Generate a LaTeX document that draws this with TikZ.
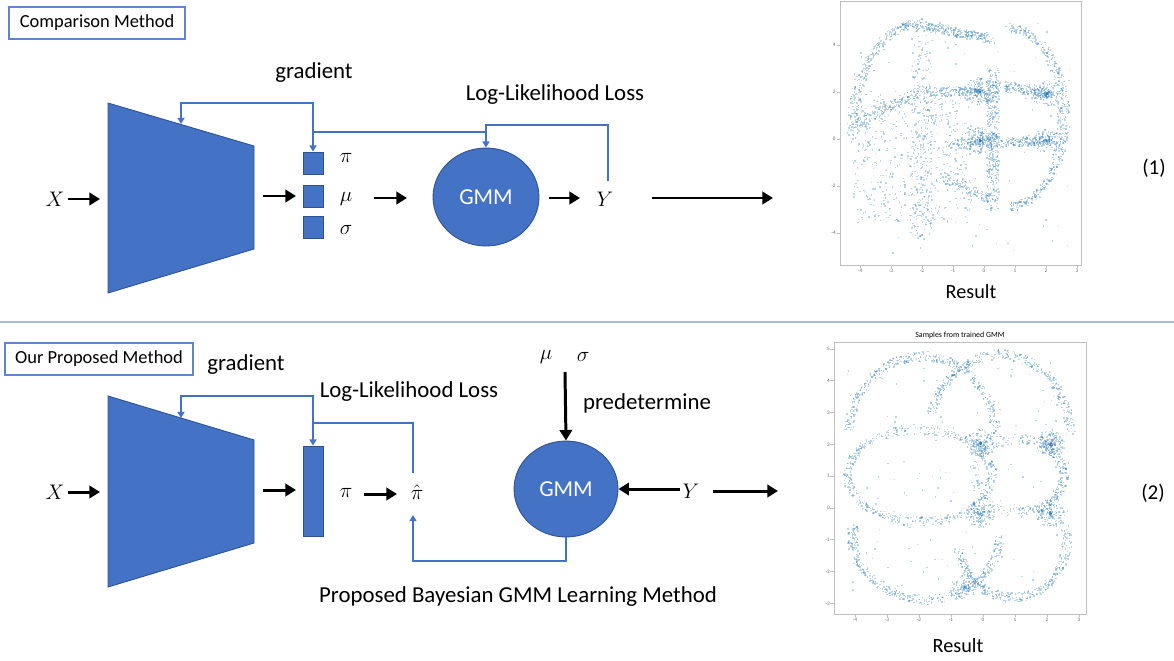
\documentclass[tikz,border=0pt]{standalone}
\usepackage{fontspec}
\setmainfont{Carlito}
\usetikzlibrary{arrows.meta,shapes.geometric}
\definecolor{netblue}{HTML}{4472C4}
\definecolor{netedge}{HTML}{2F528F}
\definecolor{tagblue}{HTML}{5B87D0}
\definecolor{sepblue}{HTML}{A9BCE0}
\definecolor{dotblue}{HTML}{1F77B4}
\def\jit{0.2}
\def\putdot{\fill (\px,\py) rectangle ++(0.8pt,0.8pt);}
% noisy samples along an elliptic arc: (cx,cy)(rx:ry:from:to){count}
\def\dotarc(#1,#2)(#3:#4:#5:#6)#7{%
	\foreach \k in {1,...,#7}{%
		\pgfmathsetmacro\ang{#5+rnd*((#6)-(#5))}%
		\pgfmathsetmacro\px{#1+(#3+\jit*rand)*cos(\ang)}%
		\pgfmathsetmacro\py{#2+(#4+\jit*rand)*sin(\ang)}%
		\putdot}}
% noisy samples along a segment
\def\dotline(#1,#2)(#3,#4)#5{%
	\foreach \k in {1,...,#5}{%
		\pgfmathsetmacro\tpar{rnd}%
		\pgfmathsetmacro\px{#1+\tpar*((#3)-(#1))+\jit*rand}%
		\pgfmathsetmacro\py{#2+\tpar*((#4)-(#2))+\jit*rand}%
		\putdot}}
% dense blob
\def\dotblob(#1,#2)(#3)#4{%
	\foreach \k in {1,...,#4}{%
		\pgfmathsetmacro\ang{360*rnd}%
		\pgfmathsetmacro\rr{#3*rnd}%
		\pgfmathsetmacro\px{#1+\rr*cos(\ang)}%
		\pgfmathsetmacro\py{#2+\rr*sin(\ang)}%
		\putdot}}
% uniform cloud in a box
\def\dotbox(#1,#2)(#3,#4)#5{%
	\foreach \k in {1,...,#5}{%
		\pgfmathsetmacro\px{#1+rnd*((#3)-(#1))}%
		\pgfmathsetmacro\py{#2+rnd*((#4)-(#2))}%
		\putdot}}

\begin{document}
\begin{tikzpicture}[x=0.02cm, y=-0.02cm,
	txt/.style={font=\fontsize{13}{15}\selectfont, inner sep=0pt},
	tag/.style={draw=tagblue, line width=0.6pt, font=\fontsize{10.5}{12}\selectfont, minimum height=0.64cm},
	net/.style={fill=netblue, draw=netedge, line width=0.5pt},
	cell/.style={net, minimum width=0.4cm, inner sep=0pt},
	gmm/.style={ellipse, net, text=white, inner sep=0pt, font=\fontsize{13}{15}\selectfont},
	arr/.style={line width=1.7pt, -{Triangle[length=6pt,width=7pt]}},
	loss/.style={draw=netblue, line width=1.1pt},
	lossarr/.style={loss, -{Triangle[length=3.5pt,width=4pt]}},
	cloud/.style={fill=dotblue, fill opacity=0.3},
	frame/.style={draw=black!25, line width=0.4pt},
	tick/.style={font=\fontsize{3}{3.5}\selectfont, text=black!60, inner sep=1pt}]
			%%%%% START %%%%%
			\fill[white] (0,0) rectangle (1174,660);
			\useasboundingbox (0,0) rectangle (1174,660);
			\pgfmathsetseed{7}
			
			%%%%% comparison method %%%%%
			\node[tag, minimum width=3.52cm] (tag1) at (97,23) {Comparison Method};
			
			\draw[net] (108,103) -- (254,146) -- (254,249) -- (108,293) -- cycle;
			\coordinate (gradtop1) at (181,103);
			\coordinate (encedge1) at (181,124);
			
			\node[txt] (xin1) at (55,199) {$X$};
			\coordinate (xa1) at (68,199);
			\coordinate (xb1) at (100,199);
			\draw[arr] (xa1) -- (xb1);
			
			\coordinate (ea1) at (263,196);
			\coordinate (eb1) at (296,196);
			\draw[arr] (ea1) -- (eb1);
			
			\node[cell, minimum height=0.44cm] (pi1) at (313,163) {};
			\node[cell, minimum height=0.44cm] (mu1) at (313,196) {};
			\node[cell, minimum height=0.44cm] (sg1) at (313,227) {};
			\node[txt] (pil1) at (346,158) {$\pi$};
			\node[txt] (mul1) at (346,199) {$\mu$};
			\node[txt] (sgl1) at (346,230) {$\sigma$};
			
			\coordinate (ma1) at (374,198);
			\coordinate (mb1) at (407,198);
			\draw[arr] (ma1) -- (mb1);
			
			\node[gmm, minimum width=2.12cm, minimum height=1.96cm] (gmm1) at (486,197) {GMM};
			\coordinate (ga1) at (549,198);
			\coordinate (gb1) at (580,198);
			\draw[arr] (ga1) -- (gb1);
			\node[txt] (y1) at (605,199) {$Y$};
			\coordinate (ya1) at (652,198);
			\coordinate (yb1) at (773,198);
			\draw[arr] (ya1) -- (yb1);
			
			\node[txt] (grad1) at (314,73) {gradient};
			\node[txt] (ll1) at (555,95) {Log-Likelihood Loss};
			
			\coordinate (ytop1) at (608,181);
			\coordinate (lossbar1) at (486,125);
			\coordinate (lossjoin1) at (313,132);
			\draw[lossarr] (ytop1) |- (lossbar1) -- (gmm1.north);
			\draw[lossarr] (gmm1.north |- lossjoin1) -| (pi1.north);
			\draw[lossarr] (lossjoin1) |- (gradtop1) -- (encedge1);
			
			% result plot (1)
			\begin{scope}[shift={(984,139)}, x=0.62cm, y=0.47cm]
				\begin{scope}[cloud]
					\def\jit{0.2}
					\dotarc(-2.0,0.5)(2.25:4.4:90:185){300}
					\dotline(-2.0,4.8)(0.3,4.2){260}
					\dotarc(0.8,0.9)(1.75:3.8:-90:90){480}
					\dotline(0.27,2.9)(0.27,-3.0){360}
					\dotline(0.35,2.3)(2.0,1.9){160}
					\dotline(-4.2,0.5)(-2.1,2.0){160}
					\dotline(-2.1,2.0)(-0.1,2.0){160}
					\dotline(0.3,-0.2)(2.0,-0.1){160}
					\dotline(-1.4,-1.6)(0.2,-2.6){120}
					\dotline(-1.2,-0.3)(-0.1,-0.1){60}
					\dotbox(-2.4,-4.3)(-1.7,4.8){280}
					\dotbox(-4.3,-3.6)(-0.4,2.0){500}
					\dotbox(-4.3,-5.0)(2.8,5.0){90}
					\dotblob(-0.15,2.0)(0.6){220}
					\dotblob(-0.15,-0.1)(0.6){220}
					\dotblob(2.0,1.9)(0.55){190}
					\dotblob(2.0,-0.1)(0.5){160}
				\end{scope}
				\draw[frame] (-4.645,-5.36) rectangle (3.13,5.87);
				\foreach \v [count=\i] in {-4,...,3}{
					\draw[frame] (\v,-5.36) -- ++(0,-2pt);
					\node[tick, anchor=north] (xta\i) at (\v,-5.45) {\v};}
				\foreach \v [count=\i] in {-4,-2,0,2,4}{
					\draw[frame] (-4.645,\v) -- ++(-2pt,0);
					\node[tick, anchor=east] (yta\i) at (-4.72,\v) {\v};}
			\end{scope}
			\node[font=\fontsize{11.5}{13}\selectfont, inner sep=0pt] (res1) at (971,292) {Result};
			\node[font=\fontsize{12}{14}\selectfont, inner sep=0pt] (num1) at (1154,168) {(1)};
			
			\draw[sepblue, line width=0.8pt] (0,322) -- (1174,322);
			
			%%%%% proposed method %%%%%
			\node[tag, minimum width=3.76cm] (tag2) at (99,359) {Our Proposed Method};
			
			\draw[net] (108,396) -- (254,440) -- (254,543) -- (108,587) -- cycle;
			\coordinate (gradtop2) at (181,396);
			\coordinate (encedge2) at (181,418);
			
			\node[txt] (xin2) at (55,492) {$X$};
			\coordinate (xa2) at (68,492);
			\coordinate (xb2) at (100,492);
			\draw[arr] (xa2) -- (xb2);
			
			\coordinate (ea2) at (263,490);
			\coordinate (eb2) at (296,490);
			\draw[arr] (ea2) -- (eb2);
			
			\node[cell, minimum height=1.8cm] (bar2) at (313,491) {};
			\node[txt] (pil2) at (346,493) {$\pi$};
			\coordinate (pa2) at (364,494);
			\coordinate (pb2) at (397,494);
			\draw[arr] (pa2) -- (pb2);
			\node[txt] (pih2) at (417,492) {$\hat{\pi}$};
			
			\node[gmm, minimum width=2.08cm, minimum height=1.92cm] (gmm2) at (566,489) {GMM};
			\node[txt] (mu2) at (546,357) {$\mu$};
			\node[txt] (sg2) at (583,357) {$\sigma$};
			\coordinate (pd2) at (565,372);
			\draw[arr] (pd2) -- (gmm2.north);
			\node[txt] (pre2) at (647,403) {predetermine};
			
			\node[txt] (y2) at (691,491) {$Y$};
			\coordinate (yl2) at (680,489);
			\draw[arr] (yl2) -- (gmm2.east);
			\coordinate (ya2) at (713,491);
			\coordinate (yb2) at (778,491);
			\draw[arr] (ya2) -- (yb2);
			
			\node[txt] (grad2) at (246,365) {gradient};
			\node[txt] (ll2) at (409,392) {Log-Likelihood Loss};
			\node[txt] (bay2) at (518,597) {Proposed Bayesian GMM Learning Method};
			
			\coordinate (pihtop2) at (413,473);
			\coordinate (lossjoin2) at (413,423);
			\coordinate (pihbot2) at (413,515);
			\coordinate (fbk2) at (413,561);
			\draw[lossarr] (pihtop2) -- (lossjoin2) -| (bar2.north);
			\draw[lossarr] (bar2.north |- lossjoin2) |- (gradtop2) -- (encedge2);
			\draw[lossarr] (gmm2.south) |- (fbk2) -- (pihbot2);
			
			% result plot (2)
			\begin{scope}[shift={(983,508)}, x=0.64cm, y=0.636cm]
				\begin{scope}[cloud]
					\def\jit{0.16}
					\dotarc(-1.9,2.2)(2.3:2.55:0:175){400}
					\dotarc(0.5,2.3)(2.2:2.5:0:165){380}
					\dotarc(-2.0,1.0)(2.25:1.45:0:360){520}
					\dotarc(1.1,1.0)(1.4:1.15:-90:90){250}
					\dotarc(1.1,1.0)(1.4:1.15:90:270){90}
					\dotarc(-1.8,-0.9)(2.3:2.0:170:360){420}
					\dotarc(0.9,-1.0)(1.7:1.85:190:370){360}
					\dotblob(-0.1,2.0)(0.45){200}
					\dotblob(-0.1,-0.2)(0.45){170}
					\dotblob(2.1,2.0)(0.45){200}
					\dotblob(2.1,-0.2)(0.45){160}
					\dotblob(-0.6,-2.5)(0.4){80}
					\dotbox(-4.3,-3.0)(2.7,4.8){150}
				\end{scope}
				\draw[frame] (-4.66,-3.33) rectangle (3.22,5.22);
				\foreach \v [count=\i] in {-4,...,3}{
					\draw[frame] (\v,-3.33) -- ++(0,-2pt);
					\node[tick, anchor=north] (xtb\i) at (\v,-3.4) {\v};}
				\foreach \v [count=\i] in {-3,...,5}{
					\draw[frame] (-4.66,\v) -- ++(-2pt,0);
					\node[tick, anchor=east] (ytb\i) at (-4.72,\v) {\v};}
				\node[font=\fontsize{4.5}{5}\selectfont, inner sep=0pt] (ttl2) at (-0.72,5.44) {Samples from trained GMM};
			\end{scope}
			\node[font=\fontsize{11.5}{13}\selectfont, inner sep=0pt] (res2) at (958,646) {Result};
			\node[font=\fontsize{12}{14}\selectfont, inner sep=0pt] (num2) at (1153,493) {(2)};
			
			%%%%% END %%%%%
\end{tikzpicture}
\end{document}
